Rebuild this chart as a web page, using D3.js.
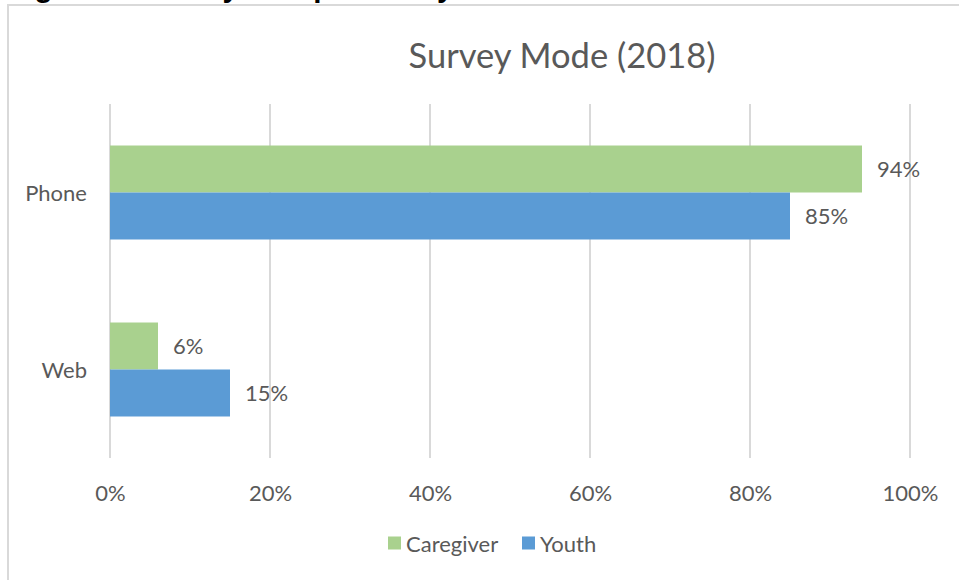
<!DOCTYPE html>
<html>
<head>
<meta charset="utf-8">
<script src="https://cdn.jsdelivr.net/npm/d3@7"></script>
<style>
  html, body { margin: 0; padding: 0; background: #fff; }
  svg { display: block; }
  text { font-family: Lato, "Open Sans", sans-serif; fill: #595959; }
</style>
</head>
<body>
<svg id="chart" width="959" height="580"></svg>
<script>
// Survey mode shares, by respondent type
const categories = ["Phone", "Web"];
const seriesNames = ["Caregiver", "Youth"];
const caregiverValues = [0.94, 0.06];
const youthValues = [0.85, 0.15];
const tickValues = [0, 0.2, 0.4, 0.6, 0.8, 1.0];
const seriesColors = ["#A9D18E", "#5B9BD5"];
const chartTitle = "Survey Mode (2018)";
const headingText = "Figure 3. Survey Completion by Mode";

const rows = categories.map((c, i) => ({
  category: c,
  values: [
    { series: seriesNames[0], value: caregiverValues[i] },
    { series: seriesNames[1], value: youthValues[i] }
  ]
}));

const svg = d3.select("#chart");
const fmt = d3.format(".0%");

// Document heading sitting just above the chart (only its descenders show)
svg.append("text")
  .attr("x", 8).attr("y", -3)
  .style("font-family", "'Liberation Sans', Arial, sans-serif")
  .style("font-weight", "bold")
  .style("font-size", "29.7px")
  .style("fill", "#000")
  .text(headingText);

// Chart frame
svg.append("rect")
  .attr("x", 8).attr("y", 5)
  .attr("width", 1000).attr("height", 600)
  .attr("fill", "none")
  .attr("stroke", "#d9d9d9")
  .attr("stroke-width", 2);

const plotTop = 104, plotBottom = 458;
const x = d3.scaleLinear().domain([0, 1]).range([110, 910]);
const y = d3.scaleBand().domain(categories).range([plotTop, plotBottom])
  .paddingInner(0.469).paddingOuter(0.2345);
const ySub = d3.scaleBand().domain(seriesNames).range([0, y.bandwidth()]);
const color = d3.scaleOrdinal().domain(seriesNames).range(seriesColors);

// Title
svg.append("text")
  .attr("x", 562).attr("y", 54)
  .attr("text-anchor", "middle")
  .attr("dominant-baseline", "central")
  .style("font-size", "34.5px")
  .text(chartTitle);

// Vertical gridlines
svg.append("g")
  .selectAll("line")
  .data(tickValues)
  .join("line")
  .attr("x1", d => x(d)).attr("x2", d => x(d))
  .attr("y1", plotTop).attr("y2", plotBottom)
  .attr("stroke", "#d9d9d9")
  .attr("stroke-width", 2);

// Bottom axis labels
const xAxis = d3.axisBottom(x).tickValues(tickValues).tickFormat(fmt).tickSize(0).tickPadding(0);
const gx = svg.append("g").attr("transform", `translate(0,${plotBottom + 34})`).call(xAxis);
gx.select(".domain").remove();
gx.selectAll("text")
  .attr("dy", null)
  .attr("dominant-baseline", "central")
  .style("font-size", "22px")
  .style("font-family", "Lato, sans-serif")
  .attr("fill", "#595959");

// Left axis (category labels)
const yAxis = d3.axisLeft(y).tickSize(0).tickPadding(0);
const gy = svg.append("g").attr("transform", "translate(87,0)").call(yAxis);
gy.select(".domain").remove();
gy.selectAll("text")
  .attr("dy", null)
  .attr("dominant-baseline", "central")
  .style("font-size", "22px")
  .style("font-family", "Lato, sans-serif")
  .attr("fill", "#595959");

// Bars and value labels
const groups = svg.append("g").selectAll("g")
  .data(rows)
  .join("g")
  .attr("transform", d => `translate(0,${y(d.category)})`);

groups.selectAll("rect")
  .data(d => d.values)
  .join("rect")
  .attr("x", x(0))
  .attr("y", d => ySub(d.series))
  .attr("width", d => x(d.value) - x(0))
  .attr("height", ySub.bandwidth())
  .attr("fill", d => color(d.series));

groups.selectAll("text.val")
  .data(d => d.values)
  .join("text")
  .attr("class", "val")
  .attr("x", d => x(d.value) + 15)
  .attr("y", d => ySub(d.series) + ySub.bandwidth() / 2)
  .attr("dominant-baseline", "central")
  .style("font-size", "22px")
  .text(d => fmt(d.value));

// Legend
const legendPos = [388, 522];
const legend = svg.append("g").selectAll("g")
  .data(seriesNames)
  .join("g")
  .attr("transform", (d, i) => `translate(${legendPos[i]},543)`);
legend.append("rect")
  .attr("x", 0).attr("y", -6.5)
  .attr("width", 13).attr("height", 13)
  .attr("fill", d => color(d));
legend.append("text")
  .attr("x", 18).attr("y", 0)
  .attr("dominant-baseline", "central")
  .style("font-size", "22px")
  .text(d => d);
</script>
</body>
</html>
